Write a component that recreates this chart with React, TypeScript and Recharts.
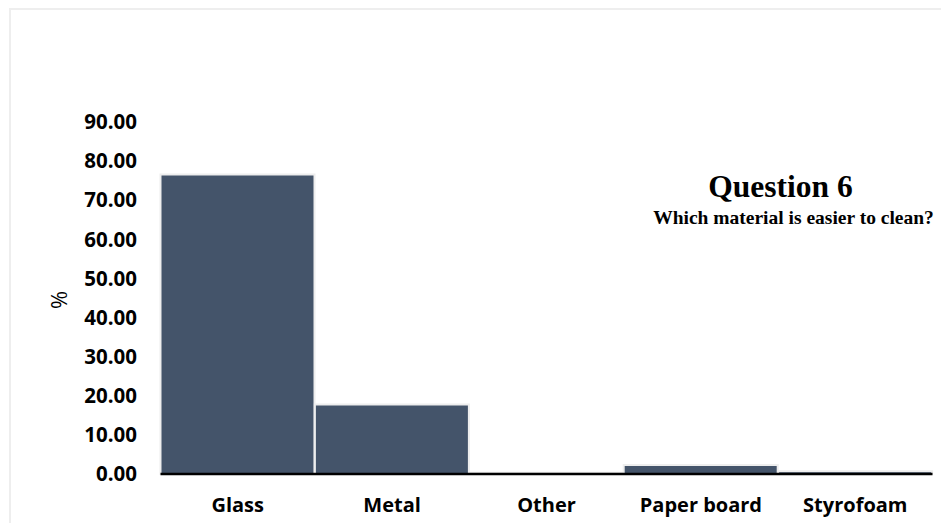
import React from "react";
import { BarChart, Bar, XAxis, YAxis } from "recharts";

const categories = ["Glass", "Metal", "Other", "Paper board", "Styrofoam"];
const percentValues = [76.6, 17.8, 0.3, 2.3, 0.7];
const yTicks = [0, 10, 20, 30, 40, 50, 60, 70, 80, 90];
const titleText = "Question 6";
const subtitleText = "Which material is easier to clean?";
const yAxisName = "%";

const data = categories.map((c, i) => ({ name: c, value: percentValues[i] }));

const W = 933;
const H = 515;

export default function App() {
  return (
    <div style={{ position: "relative", width: W, height: H, overflow: "hidden" }}>
      <div
        style={{
          position: "absolute",
          left: 1,
          top: 0,
          width: W - 1,
          height: H,
          borderTop: "2px solid #eeeeee",
          borderLeft: "2px solid #eeeeee",
          boxSizing: "border-box",
        }}
      />
      <div style={{ position: "absolute", left: 0, top: 0 }}>
        <BarChart
          width={W}
          height={H}
          data={data}
          margin={{ top: 114, right: 8.5, left: 52.5, bottom: 9 }}
          barCategoryGap={0}
        >
          <XAxis
            dataKey="name"
            height={40}
            tickLine={false}
            tickSize={0}
            tickMargin={24}
            axisLine={{ stroke: "#000000", strokeWidth: 2.5 }}
            tick={{ fill: "#000000", fontFamily: "'Open Sans'", fontWeight: 700, fontSize: 20 }}
            interval={0}
          />
          <YAxis
            width={100}
            domain={[0, 90]}
            ticks={yTicks}
            tickFormatter={(v: number) => v.toFixed(2)}
            axisLine={false}
            tickLine={false}
            tickSize={0}
            tickMargin={23.5}
            tick={{ fill: "#000000", fontFamily: "'Open Sans'", fontWeight: 700, fontSize: 20.5 }}
            interval={0}
          />
          <Bar
            dataKey="value"
            fill="#44546A"
            stroke="#eeeeee"
            strokeWidth={2}
            isAnimationActive={false}
          />
        </BarChart>
      </div>
      <svg
        width={W}
        height={H}
        style={{ position: "absolute", left: 0, top: 0, pointerEvents: "none" }}
      >
        <text
          x={772.5}
          y={189}
          textAnchor="middle"
          fontFamily="'Liberation Serif', 'Times New Roman', serif"
          fontWeight={700}
          fontSize={31.5}
          fill="#000000"
        >
          {titleText}
        </text>
        <text
          x={785.5}
          y={216}
          textAnchor="middle"
          fontFamily="'Liberation Serif', 'Times New Roman', serif"
          fontWeight={700}
          fontSize={19.5}
          fill="#000000"
        >
          {subtitleText}
        </text>
        <text
          x={50}
          y={292}
          textAnchor="middle"
          dominantBaseline="central"
          transform="rotate(-90 50 292)"
          fontFamily="'Open Sans'"
          fontSize={22}
          fill="#000000"
        >
          {yAxisName}
        </text>
      </svg>
    </div>
  );
}
